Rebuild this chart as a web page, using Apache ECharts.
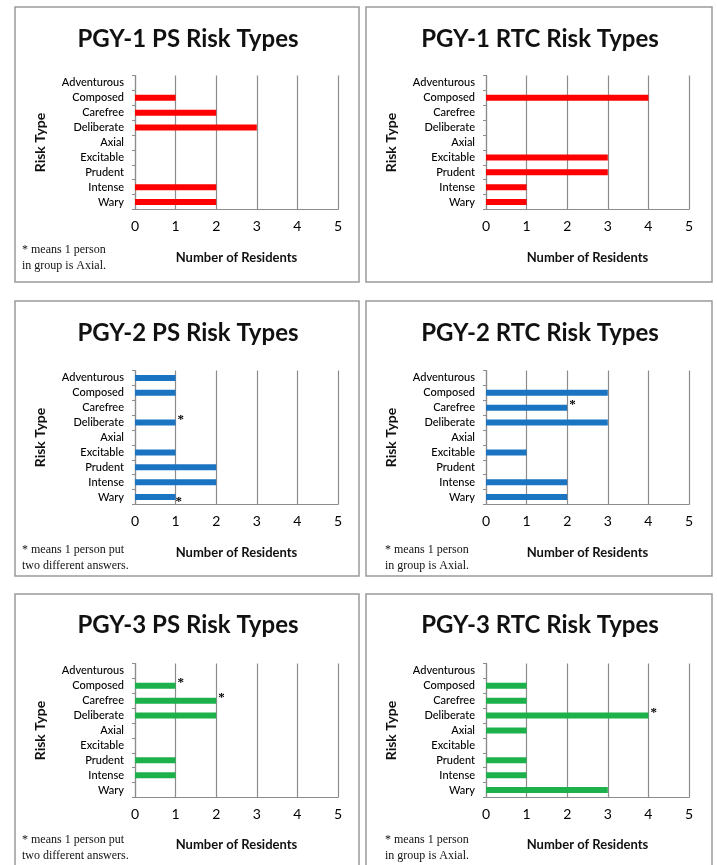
<!DOCTYPE html>
<html>
<head>
<meta charset="utf-8">
<script src="https://cdn.jsdelivr.net/npm/echarts@6/dist/echarts.min.js"></script>
<style>
html,body{margin:0;padding:0;background:#fff;}
#chart{width:717px;height:865px;}
</style>
</head>
<body>
<div id="chart"></div>
<script>
const categories = ["Adventurous","Composed","Carefree","Deliberate","Axial","Excitable","Prudent","Intense","Wary"];
const xTicks = [0,1,2,3,4,5];

const pgy1PS  = [0,1,2,3,0,0,0,2,2];
const pgy1RTC = [0,4,0,0,0,3,3,1,1];
const pgy2PS  = [1,1,0,1,0,1,2,2,1];
const pgy2RTC = [0,3,2,3,0,1,0,2,2];
const pgy3PS  = [0,1,2,2,0,0,1,1,0];
const pgy3RTC = [0,1,1,4,1,0,1,1,3];

const starsPgy1PS  = ["","","","","","","","",""];
const starsPgy1RTC = ["","","","","","","","",""];
const starsPgy2PS  = ["","","","*","","","","","*"];
const starsPgy2RTC = ["","","*","","","","","",""];
const starsPgy3PS  = ["","*","*","","","","","",""];
const starsPgy3RTC = ["","","","*","","","","",""];

const titles = ["PGY-1 PS Risk Types","PGY-1 RTC Risk Types","PGY-2 PS Risk Types","PGY-2 RTC Risk Types","PGY-3 PS Risk Types","PGY-3 RTC Risk Types"];
const notes = [
  ["* means 1 person","in group is Axial."],
  null,
  ["* means 1 person put","two different answers."],
  ["* means 1 person","in group is Axial."],
  ["* means 1 person put","two different answers."],
  ["* means 1 person","in group is Axial."]
];

const panels = [
  {data: pgy1PS,  stars: starsPgy1PS,  color: "#ff0000"},
  {data: pgy1RTC, stars: starsPgy1RTC, color: "#ff0000"},
  {data: pgy2PS,  stars: starsPgy2PS,  color: "#1b74c1"},
  {data: pgy2RTC, stars: starsPgy2RTC, color: "#1b74c1"},
  {data: pgy3PS,  stars: starsPgy3PS,  color: "#1db14b"},
  {data: pgy3RTC, stars: starsPgy3RTC, color: "#1db14b"}
];

const colLeft = [135, 486];
const plotW = 203;
const rowTop = [75.5, 370.5, 663.5];
const plotH = 134;
const titleY = [39, 333, 625];
const titleX = [188, 540];
const boxes = [
  [15,7,344,275],[366,7,346,275],
  [15,301,344,275],[366,301,346,275],
  [15,594,344,290],[366,594,346,290]
];
const noteX = [22, 385];
const noteY = [[250,266],[550,566],[840,856]];

const chart = echarts.init(document.getElementById('chart'), null, {renderer:'canvas'});

const grid=[], xAxis=[], yAxis=[], series=[], graphic=[];
const gridCol = "#8c8c8c";
panels.forEach((p,i)=>{
  const r = Math.floor(i/2), c = i%2;
  grid.push({left: colLeft[c], top: rowTop[r], width: plotW, height: plotH, containLabel:false});
  xAxis.push({
    type:'value', gridIndex:i, min:0, max:5, interval:1,
    axisLine:{show:true, lineStyle:{color:gridCol, width:1.2}},
    axisTick:{show:false},
    splitLine:{show:true, lineStyle:{color:gridCol, width:1.2}},
    axisLabel:{color:'#000', fontSize:14, fontFamily:'Lato', margin:10,
      formatter:(v)=> xTicks.includes(v) ? String(v) : ''},
    name:'Number of Residents', nameLocation:'middle', nameGap: r===2 ? 41 : 42,
    nameTextStyle:{fontFamily:'Lato', fontWeight:'bold', fontSize:13, color:'#111'}
  });
  yAxis.push({
    type:'category', gridIndex:i, data:categories, inverse:true,
    axisLine:{show:true, lineStyle:{color:gridCol, width:1.2}},
    axisTick:{show:true, length:3, lineStyle:{color:gridCol}},
    splitLine:{show:false},
    axisLabel:{color:'#000', fontSize:11, fontFamily:'Lato', fontWeight:500, margin:11, interval:0},
    name:'Risk Type', nameLocation:'middle', nameRotate:90, nameGap: 88,
    nameTextStyle:{fontFamily:'Lato', fontWeight:'bold', fontSize:14, color:'#111'}
  });
  series.push({
    type:'bar', xAxisIndex:i, yAxisIndex:i, barWidth:6,
    data:p.data.map((v,k)=> (i===2 && k===8) ? {value:v, label:{offset:[-2,5]}} : v),
    itemStyle:{color:p.color},
    label:{show:true, position:'right', distance:2, offset:[0,-3], fontSize:13, fontWeight:'bold', color:'#000', fontFamily:'Liberation Serif',
      formatter:(d)=> p.stars[d.dataIndex]},
    silent:true, animation:false
  });
  const b = boxes[i];
  graphic.push({type:'rect', shape:{x:b[0], y:b[1], width:b[2], height:b[3]},
    style:{fill:null, stroke:'#9a9a9a', lineWidth:1.5}, silent:true, z:-1});
  graphic.push({type:'text', x:titleX[c], y:titleY[r],
    style:{text:titles[i], fontFamily:'Lato', fontWeight:'bold', fontSize:24, fill:'#111', textAlign:'center', textVerticalAlign:'middle'}});
  if (notes[i]) {
    notes[i].forEach((t,k)=>{
      graphic.push({type:'text', x:noteX[c], y:noteY[r][k],
        style:{text:t, fontFamily:'Liberation Serif', fontSize:12, fill:'#111', textAlign:'left', textVerticalAlign:'middle'}});
    });
  }
});

chart.setOption({
  animation:false,
  backgroundColor:'#fff',
  grid, xAxis, yAxis, series, graphic
});
</script>
</body>
</html>
